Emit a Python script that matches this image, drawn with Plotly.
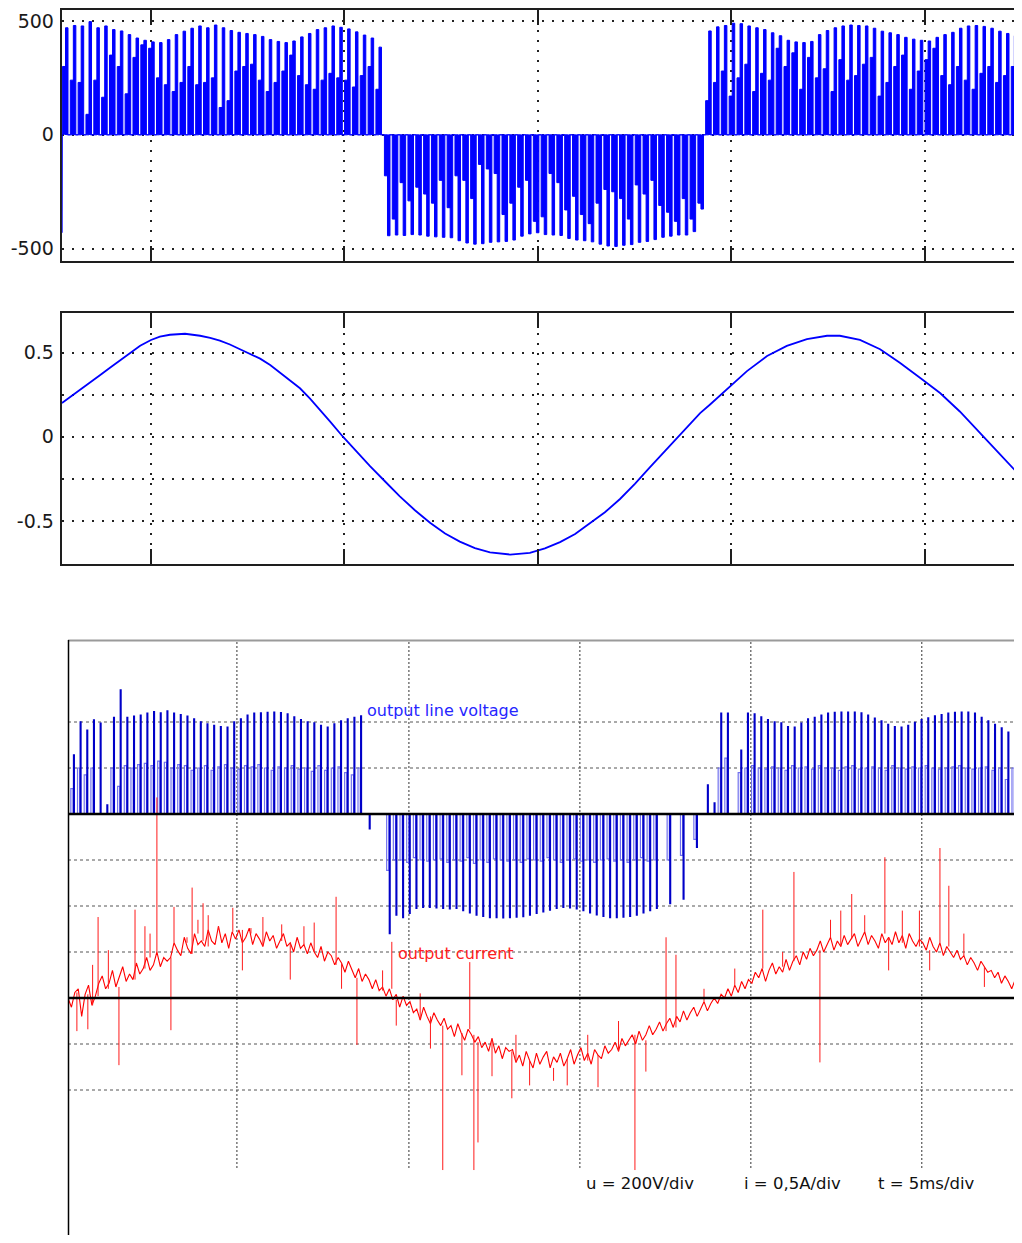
import plotly.graph_objects as go

# page has an 8px body margin: reference pixel p maps to figure pixel p - OFF
OFF = 8
FW, FH = 1022 - OFF, 1243 - 2 * OFF


def fx(p):
    return (p - OFF) / FW


def fy(p):
    return 1 - (p - OFF) / FH


# ---------------- top panel: simulated output line voltage (V), time in ms ----------------
v_sim_first_sample = -430
v_sim_period = 0.2025
v_sim_starts = [2.68, 11.00, 19.30]
v_sim_peaks_pos1 = [470, 480, 478, 497, 470, 478, 462, 456, 440, 425, 415, 408, 405, 418, 440,
                    455, 468, 478, 470, 482, 470, 458, 450, 445, 440, 432, 418, 410, 405, 412,
                    430, 445, 462, 470, 478, 472, 465, 452, 438, 425, 385]
v_sim_mids_pos1 = [300, 240, 230, 90, 240, 165, 350, 300, 180, 340, 395, 380, 250, 220, 190,
                   230, 300, 220, 230, 250, 120, 150, 280, 300, 310, 240, 190, 230, 280, 350,
                   260, 220, 200, 240, 270, 250, 240, 210, 260, 300, 200]
v_sim_peaks_neg = [-443, -440, -442, -438, -440, -445, -448, -450, -452, -465, -475, -480, -478,
                   -472, -470, -468, -462, -445, -435, -430, -438, -440, -442, -455, -462, -465,
                   -470, -480, -488, -490, -485, -482, -472, -468, -460, -450, -445, -440, -440,
                   -425, -326]
v_sim_mids_neg = [-180, -370, -210, -290, -230, -260, -300, -200, -320, -180, -200, -280, -130,
                  -150, -170, -350, -300, -230, -200, -380, -360, -170, -210, -330, -270, -350,
                  -390, -300, -240, -250, -280, -370, -220, -260, -200, -310, -340, -380, -280,
                  -370, -300]
v_sim_peaks_pos2 = [456, 474, 480, 490, 488, 478, 470, 462, 448, 435, 415, 408, 405, 410, 440,
                    458, 470, 478, 482, 480, 478, 468, 455, 448, 440, 428, 420, 415, 412, 428,
                    440, 450, 468, 478, 480, 476, 468, 455, 445, 435, 430, 425]
v_sim_mids_pos2 = [150, 230, 280, 170, 250, 310, 190, 270, 240, 380, 300, 360, 200, 340, 250,
                   290, 190, 330, 240, 260, 310, 340, 170, 230, 300, 350, 200, 280, 330, 380,
                   260, 220, 300, 240, 200, 270, 300, 230, 260, 300, 340, 290]
v_sim_ticks = [-500, 0, 500]
v_sim_ticktext = ["-500", "0", "500"]

# ---------------- middle panel: simulated output current (A) ----------------
i_sim_t = [2.70, 2.91, 3.17, 3.42, 3.68, 3.94, 4.20, 4.46, 4.72, 5.00, 5.23, 5.49, 5.88, 6.27,
           6.53, 6.78, 7.04, 7.30, 7.56, 7.82, 8.08, 8.33, 8.59, 8.85, 9.11, 9.37, 9.63, 9.96,
           10.27, 10.66, 11.05, 11.43, 11.82, 12.21, 12.60, 12.98, 13.37, 13.76, 14.28, 14.79,
           15.18, 15.57, 15.96, 16.34, 16.73, 17.12, 17.51, 17.89, 18.28, 18.62, 18.93, 19.19,
           19.44, 19.70, 19.96, 20.40, 20.92, 21.43, 21.95, 22.47, 22.80, 23.32, 23.84, 24.35,
           24.87, 25.39, 25.90, 26.42, 26.94, 27.51]
i_sim_v = [0.20, 0.235, 0.275, 0.32, 0.365, 0.41, 0.453, 0.495, 0.541, 0.575, 0.595, 0.606,
           0.612, 0.60, 0.588, 0.571, 0.548, 0.52, 0.494, 0.464, 0.426, 0.383, 0.338, 0.288,
           0.226, 0.159, 0.09, 0.0, -0.08, -0.175, -0.266, -0.354, -0.437, -0.511, -0.575,
           -0.623, -0.662, -0.687, -0.70, -0.69, -0.663, -0.626, -0.578, -0.517, -0.449, -0.37,
           -0.279, -0.182, -0.085, 0.0, 0.075, 0.14, 0.19, 0.245, 0.30, 0.39, 0.48, 0.54, 0.58,
           0.60, 0.60, 0.575, 0.52, 0.44, 0.35, 0.26, 0.15, 0.02, -0.105, -0.245]
i_sim_ticks = [-0.5, -0.25, 0, 0.25, 0.5]
i_sim_ticktext = ["-0.5", "", "0", "", "0.5"]

time_grid = [5, 10, 15, 20, 25]

# ---------------- bottom panel: oscilloscope capture ----------------
v_sc_period = 0.1953
v_sc_starts = [0.06, 8.71, 18.60]
v_sc_peaks_pos1 = [257, 400, 365, 409, 395, 40, 420, 540, 420, 425, 430, 439, 445, 440, 448,
                   438, 432, 425, 413, 400, 392, 385, 380, 378, 400, 413, 430, 439, 440, 442,
                   443, 441, 435, 422, 410, 400, 396, 385, 378, 392, 405, 413, 420, 426]
v_sc_mids_pos1 = [110, 200, 170, 200, 0, 0, 200, 120, 210, 200, 215, 220, 210, 230, 225, 200,
                  215, 210, 190, 200, 210, 190, 205, 215, 200, 195, 210, 205, 215, 200, 190,
                  205, 200, 210, 195, 200, 185, 210, 190, 200, 205, 180, 170, 200]
v_sc_peaks_neg = [-65, 0, 0, -520, -440, -450, -432, -410, -406, -406, -408, -410, -412, -410,
                  -420, -430, -440, -445, -450, -450, -452, -450, -448, -446, -440, -432, -425,
                  -418, -410, -406, -408, -412, -420, -430, -438, -445, -450, -450, -448, -445,
                  -440, -430, -420, -410, 0, -390, 0, -370, 0, -145]
v_sc_mids_neg = [0, 0, 0, -245, -200, -200, -210, -190, -200, -205, -200, -195, -210, -200,
                 -205, -190, -215, -200, -210, -195, -200, -205, -200, -210, -195, -200, -205,
                 -190, -200, -210, -200, -195, -205, -200, -210, -200, -195, -205, -200, -210,
                 -200, -190, -205, -200, 0, -200, 0, -180, 0, -110]
v_sc_peaks_pos2 = [126, 48, 439, 439, 0, 278, 439, 435, 422, 410, 400, 396, 380, 378, 395, 413,
                   420, 430, 439, 442, 443, 443, 443, 440, 430, 417, 405, 390, 380, 378, 385,
                   398, 410, 418, 426, 432, 439, 442, 443, 443, 438, 420, 405, 390, 374, 356,
                   370, 387]
v_sc_mids_pos2 = [0, 0, 200, 243, 0, 180, 200, 210, 200, 195, 205, 200, 190, 210, 200, 205,
                  195, 210, 200, 200, 190, 205, 210, 195, 200, 205, 200, 190, 210, 200, 195,
                  205, 200, 210, 200, 195, 200, 205, 210, 200, 195, 200, 205, 190, 200, 150,
                  200, 150]

i_sc_dt = 0.1
i_sc_values = [
    0.00, -0.10, 0.06, 0.10, -0.20, 0.04, 0.14, -0.08, 0.02, 0.16,
    0.24, 0.10, 0.16, 0.30, 0.12, 0.22, 0.34, 0.18, 0.26, 0.20,
    0.38, 0.26, 0.32, 0.44, 0.30, 0.36, 0.50, 0.34, 0.44, 0.40,
    0.44, 0.60, 0.52, 0.46, 0.66, 0.54, 0.48, 0.70, 0.58, 0.62,
    0.56, 0.74, 0.62, 0.58, 0.78, 0.60, 0.70, 0.54, 0.72, 0.64,
    0.74, 0.60, 0.66, 0.76, 0.58, 0.70, 0.64, 0.56, 0.72, 0.62,
    0.68, 0.54, 0.62, 0.70, 0.56, 0.60, 0.50, 0.66, 0.54, 0.58,
    0.48, 0.60, 0.50, 0.44, 0.56, 0.40, 0.50, 0.46, 0.36, 0.44,
    0.38, 0.28, 0.40, 0.30, 0.22, 0.32, 0.18, 0.26, 0.20, 0.10,
    0.20, 0.08, 0.12, 0.02, 0.10, -0.02, 0.04, -0.10, 0.02, -0.08,
    -0.04, -0.16, -0.12, -0.24, -0.10, -0.20, -0.28, -0.16, -0.24, -0.30,
    -0.22, -0.34, -0.30, -0.42, -0.28, -0.38, -0.46, -0.34, -0.40, -0.48,
    -0.42, -0.54, -0.48, -0.58, -0.44, -0.60, -0.52, -0.66, -0.54, -0.58,
    -0.56, -0.70, -0.62, -0.74, -0.58, -0.68, -0.76, -0.60, -0.72, -0.64,
    -0.58, -0.76, -0.64, -0.70, -0.60, -0.74, -0.66, -0.56, -0.72, -0.62,
    -0.54, -0.68, -0.60, -0.72, -0.56, -0.62, -0.66, -0.52, -0.60, -0.56,
    -0.48, -0.58, -0.44, -0.52, -0.46, -0.40, -0.50, -0.36, -0.46, -0.40,
    -0.30, -0.40, -0.34, -0.26, -0.36, -0.28, -0.22, -0.32, -0.20, -0.26,
    -0.14, -0.24, -0.16, -0.10, -0.20, -0.12, -0.04, -0.14, -0.06, 0.00,
    -0.06, 0.04, 0.00, 0.10, 0.02, 0.14, 0.06, 0.18, 0.10, 0.20,
    0.16, 0.28, 0.22, 0.32, 0.18, 0.30, 0.38, 0.26, 0.34, 0.28,
    0.42, 0.30, 0.40, 0.46, 0.36, 0.50, 0.42, 0.54, 0.46, 0.52,
    0.62, 0.50, 0.58, 0.66, 0.52, 0.62, 0.56, 0.68, 0.58, 0.64,
    0.70, 0.56, 0.64, 0.72, 0.58, 0.68, 0.62, 0.54, 0.70, 0.60,
    0.66, 0.58, 0.72, 0.60, 0.68, 0.54, 0.70, 0.62, 0.56, 0.64,
    0.60, 0.52, 0.66, 0.56, 0.50, 0.60, 0.46, 0.56, 0.50, 0.44,
    0.52, 0.42, 0.46, 0.36, 0.44, 0.38, 0.30, 0.40, 0.34, 0.28,
    0.30, 0.22, 0.28, 0.16, 0.24, 0.18, 0.10, 0.20, 0.14, 0.08,
]
i_sc_spike_t = [0.26, 0.58, 0.72, 0.88, 1.18, 1.49, 1.96, 2.25, 2.40, 2.60, 3.01, 3.10, 3.48,
                3.63, 3.80, 3.95, 4.10, 4.40, 4.82, 5.10, 5.35, 5.70, 6.25, 6.50, 6.90, 7.20,
                7.84, 8.00, 8.45, 9.20, 9.47, 9.60, 10.30, 10.60, 10.96, 11.52, 11.75, 11.87,
                11.99, 12.40, 12.98, 13.10, 13.50, 14.20, 14.60, 15.20, 15.50, 16.10, 16.58,
                16.90, 17.49, 17.78, 18.60, 19.50, 20.32, 20.90, 21.23, 21.99, 22.30, 22.60,
                22.92, 23.30, 23.89, 24.00, 24.40, 24.90, 25.20, 25.50, 25.76, 26.20, 26.80,
                27.84]
i_sc_spike_v = [-0.36, -0.34, 0.36, 0.88, 0.52, -0.73, 0.96, 0.78, 0.70, 2.18, -0.35, 0.99, 0.60,
                1.20, 0.85, 1.03, 0.90, 0.75, 0.98, 0.30, 0.70, 0.88, 0.80, 0.20, 0.78, 0.82,
                1.10, 0.10, -0.51, 0.30, 0.61, -0.30, 0.05, -0.55, -1.87, -0.84, 0.39, -1.87,
                -1.57, -0.85, -1.09, -0.40, -0.95, -0.90, -0.95, -0.40, -0.97, -0.25, -1.87,
                -0.80, 0.66, 0.47, 0.10, 0.32, 0.96, 0.50, 1.37, -0.70, 0.85, 0.95,
                1.13, 0.90, 1.53, 0.30, 0.95, 0.95, 0.30, 1.63, 1.22, 0.70, 0.12,
                -1.90]

scope_grid_t = [4.94, 9.97, 14.97, 19.97, 24.97]
scope_grid_v = [400, 200, -200, -400, -600]
scope_grid_i = [-0.5, -1.0]


def pulse_path(t0, period, levels, f_on, f_off):
    xs, ys = [], []
    for k, lv in enumerate(levels):
        a = t0 + (k + f_on) * period
        b = t0 + (k + f_off) * period
        xs += [a, a, b, b]
        ys += [0, lv, lv, 0]
    return xs, ys


def train(starts, period, groups, f_on, f_off):
    xs, ys = [], []
    for t0, lv in zip(starts, groups):
        x, y = pulse_path(t0, period, lv, f_on, f_off)
        xs += x
        ys += y
    return xs, ys


fig = go.Figure()

# top panel
mx, my = train(v_sim_starts, v_sim_period,
               [v_sim_mids_pos1, v_sim_mids_neg, v_sim_mids_pos2], 0.16, 0.70)
mx = [v_sim_starts[0] + 0.025, v_sim_starts[0] + 0.025] + mx
my = [v_sim_first_sample, 0] + my
px_, py_ = train(v_sim_starts, v_sim_period,
                 [v_sim_peaks_pos1, v_sim_peaks_neg, v_sim_peaks_pos2], 0.55, 0.87)
for xs, ys in [(mx, my), (px_, py_)]:
    fig.add_trace(go.Scatter(x=xs, y=ys, mode="lines", fill="tozeroy",
                             fillcolor="#0000ff", line=dict(color="#0000ff", width=1),
                             xaxis="x", yaxis="y", hoverinfo="skip", showlegend=False))

# middle panel
fig.add_trace(go.Scatter(x=i_sim_t, y=i_sim_v, mode="lines",
                         line=dict(color="#0000ff", width=1.8),
                         xaxis="x2", yaxis="y2", hoverinfo="skip", showlegend=False))

# bottom panel voltage
lx, ly = train(v_sc_starts, v_sc_period,
               [v_sc_mids_pos1, v_sc_mids_neg, v_sc_mids_pos2], 0.12, 0.45)
dx, dy = train(v_sc_starts, v_sc_period,
               [v_sc_peaks_pos1, v_sc_peaks_neg, v_sc_peaks_pos2], 0.52, 0.64)
fig.add_trace(go.Scatter(x=lx, y=ly, mode="lines", line=dict(color="#7272ee", width=1.2),
                         xaxis="x3", yaxis="y3", hoverinfo="skip", showlegend=False))
fig.add_trace(go.Scatter(x=dx, y=dy, mode="lines", line=dict(color="#0000c8", width=1.3),
                         xaxis="x3", yaxis="y3", hoverinfo="skip", showlegend=False))

# bottom panel current
i_sc_t = [k * i_sc_dt for k in range(len(i_sc_values))]
fig.add_trace(go.Scatter(x=i_sc_t, y=i_sc_values, mode="lines",
                         line=dict(color="#ff0000", width=1.1),
                         xaxis="x3", yaxis="y4", hoverinfo="skip", showlegend=False))
sx, sy = [], []
for t, v in zip(i_sc_spike_t, i_sc_spike_v):
    base = i_sc_values[min(len(i_sc_values) - 1, int(t / i_sc_dt))]
    sx += [t, t, None]
    sy += [base, v, None]
fig.add_trace(go.Scatter(x=sx, y=sy, mode="lines", line=dict(color="#ff1a1a", width=1),
                         xaxis="x3", yaxis="y4", hoverinfo="skip", showlegend=False))

# ---------------- layout ----------------
axis_col = "#1e1e1e"
tick_font = dict(family="DejaVu Sans", size=19, color="#1a1a1a")
xr = [2.693, 27.507]
xdom = [fx(61.7), 1.0]


def xa(anchor):
    return dict(domain=xdom, range=xr, anchor=anchor, showline=True, linecolor=axis_col,
                linewidth=2, mirror="ticks", ticks="inside", ticklen=15, tickwidth=2,
                tickcolor=axis_col, tickvals=time_grid, showticklabels=False, showgrid=True,
                gridcolor="#222222", gridwidth=2, griddash="2px,8px", zeroline=False)


def ya(dom, rng, tv, tt):
    return dict(domain=dom, range=rng, showline=True, linecolor=axis_col, linewidth=2,
                mirror=False, ticks="", tickvals=tv, ticktext=tt, tickfont=tick_font,
                ticklabelstandoff=2, showgrid=True, gridcolor="#222222", gridwidth=2,
                griddash="2px,8px", zeroline=False, layer="below traces")


shapes = []
for t in scope_grid_t:
    shapes.append(dict(type="line", xref="x3", yref="paper", x0=t, x1=t,
                       y0=fy(1168), y1=fy(640), layer="below",
                       line=dict(color="#333333", width=1, dash="2px,2px")))
for v in scope_grid_v:
    shapes.append(dict(type="line", xref="paper", yref="y3", x0=fx(68), x1=1, y0=v, y1=v,
                       layer="below", line=dict(color="#555555", width=1, dash="3px,3px")))
for v in scope_grid_i:
    shapes.append(dict(type="line", xref="paper", yref="y4", x0=fx(68), x1=1, y0=v, y1=v,
                       layer="below", line=dict(color="#555555", width=1, dash="3px,3px")))
shapes.append(dict(type="line", xref="paper", yref="y3", x0=fx(68), x1=1, y0=0, y1=0,
                   line=dict(color="#000000", width=2.5)))
shapes.append(dict(type="line", xref="paper", yref="y4", x0=fx(68), x1=1, y0=0, y1=0,
                   line=dict(color="#000000", width=2.5)))
shapes.append(dict(type="line", xref="paper", yref="paper", x0=fx(68), x1=1,
                   y0=fy(640.5), y1=fy(640.5), line=dict(color="#9a9a9a", width=2)))
shapes.append(dict(type="line", xref="paper", yref="paper", x0=fx(68.5), x1=fx(68.5),
                   y0=0, y1=fy(640), line=dict(color="#000000", width=1.5)))

ann_font = "DejaVu Sans"


def label(text, x, y, color, size):
    return dict(text=text, x=fx(x), y=fy(y), xref="paper", yref="paper",
                xanchor="left", yanchor="middle", showarrow=False,
                font=dict(family=ann_font, size=size, color=color))


annotations = [
    label("output line voltage", 365, 710, "#2626ff", 16),
    label("output current", 396, 953, "#ff2020", 16),
    label("u = 200V/div", 584, 1183, "#111111", 16.5),
    label("i = 0,5A/div", 742, 1183, "#111111", 16.5),
    label("t = 5ms/div", 876, 1183, "#111111", 16.5),
]

fig.update_layout(
    width=FW, height=FH, margin=dict(l=0, r=0, t=0, b=0),
    paper_bgcolor="#ffffff", plot_bgcolor="#ffffff", showlegend=False,
    xaxis=xa("y"),
    yaxis=ya([fy(261), fy(10)], [-554, 548], v_sim_ticks, v_sim_ticktext),
    xaxis2=xa("y2"),
    yaxis2=ya([fy(564.3), fy(312.7)], [-0.758, 0.737], i_sim_ticks, i_sim_ticktext),
    xaxis3=dict(domain=[fx(68), 1.0], range=[0, 27.9], anchor="y3", visible=False),
    yaxis3=dict(domain=[0, fy(640)], range=[-1830.4, 756.5], anchor="x3", visible=False),
    yaxis4=dict(domain=[0, fy(640)], range=[-2.576, 3.891], anchor="x3",
                overlaying="y3", visible=False),
    shapes=shapes, annotations=annotations,
)

fig.write_html("out.html", config={"displayModeBar": False})
